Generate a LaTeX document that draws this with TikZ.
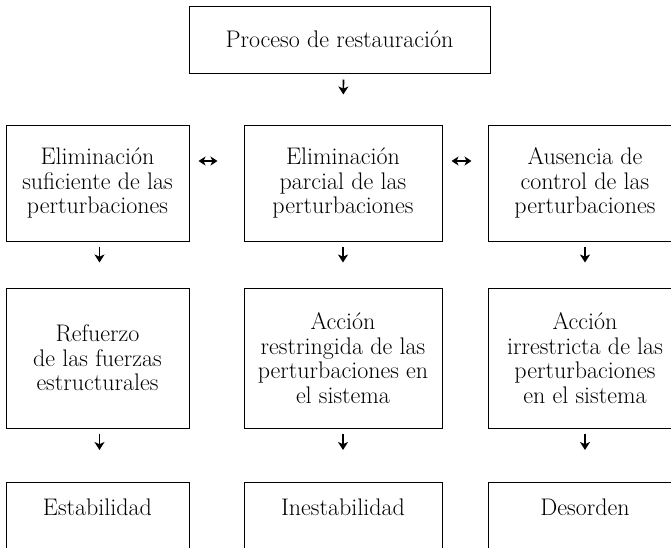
\documentclass[tikz,border=0pt]{standalone}
\usetikzlibrary{arrows.meta}
\begin{document}
\begin{tikzpicture}[x=1pt,y=-1pt,
  box/.style={draw, line width=1pt, align=center, inner sep=0pt,
    font=\fontsize{24}{24.5}\selectfont},
  arr/.style={-{Stealth[length=8pt,width=10pt,inset=2.2pt]}, line width=1.7pt},
  harr/.style={{Stealth[length=7pt,width=9pt,inset=2pt]}-{Stealth[length=7pt,width=9pt,inset=2pt]}, line width=1.6pt}]
\useasboundingbox (0,0) rectangle (671,547);
% row 1
\node[box, minimum width=301pt, minimum height=67pt] (top) at (339.5,39.5) {Proceso de restauración};
% row 2
\node[box, minimum width=183pt, minimum height=116pt] (l2) at (97.5,183) {Eliminación\\suficiente de las\\perturbaciones};
\node[box, minimum width=198pt, minimum height=116pt] (m2) at (343,183) {Eliminación\\parcial de las\\perturbaciones};
\node[box, minimum width=194pt, minimum height=116pt] (r2) at (585,183) {Ausencia de\\control de las\\perturbaciones};
% row 3
\node[box, minimum width=183pt, minimum height=140pt] (l3) at (97.5,358) {Refuerzo\\de las fuerzas\\estructurales};
\node[box, minimum width=198pt, minimum height=140pt] (m3) at (343,358) {Acción\\restringida de las\\perturbaciones en\\el sistema};
\node[box, minimum width=194pt, minimum height=140pt] (r3) at (585,358) {Acción\\irrestricta de las\\perturbaciones\\en el sistema};
% row 4 (cut by the page edge)
\node[box, minimum width=183pt, anchor=north, text height=21pt, text depth=50pt, inner ysep=12pt] (l4) at (97.5,482) {Estabilidad};
\node[box, minimum width=198pt, anchor=north, text height=21pt, text depth=50pt, inner ysep=12pt] (m4) at (343,482) {Inestabilidad};
\node[box, minimum width=194pt, anchor=north, text height=21pt, text depth=50pt, inner ysep=12pt] (r4) at (585,482) {Desorden};
% arrows
\draw[arr, shorten <=6pt, shorten >=30pt] ([xshift=4pt]top.south) -- (m2.north);
\draw[arr, shorten <=5pt, shorten >=25pt] ([xshift=2pt]l2.south) -- ([xshift=2pt]l3.north);
\draw[arr, shorten <=5pt, shorten >=25pt] (m2.south) -- (m3.north);
\draw[arr, shorten <=5pt, shorten >=25pt] (r2.south) -- (r3.north);
\draw[arr, shorten <=5pt, shorten >=32pt] ([xshift=2pt]l3.south) -- ([xshift=2pt]l4.north);
\draw[arr, shorten <=5pt, shorten >=32pt] (m3.south) -- (m4.north);
\draw[arr, shorten <=5pt, shorten >=32pt] (r3.south) -- (r4.north);
\draw[harr, shorten <=9pt, shorten >=26pt] ([yshift=22pt]l2.east) -- ([yshift=22pt]m2.west);
\draw[harr, shorten <=9pt, shorten >=16pt] ([yshift=22pt]m2.east) -- ([yshift=22pt]r2.west);
\end{tikzpicture}
\end{document}
